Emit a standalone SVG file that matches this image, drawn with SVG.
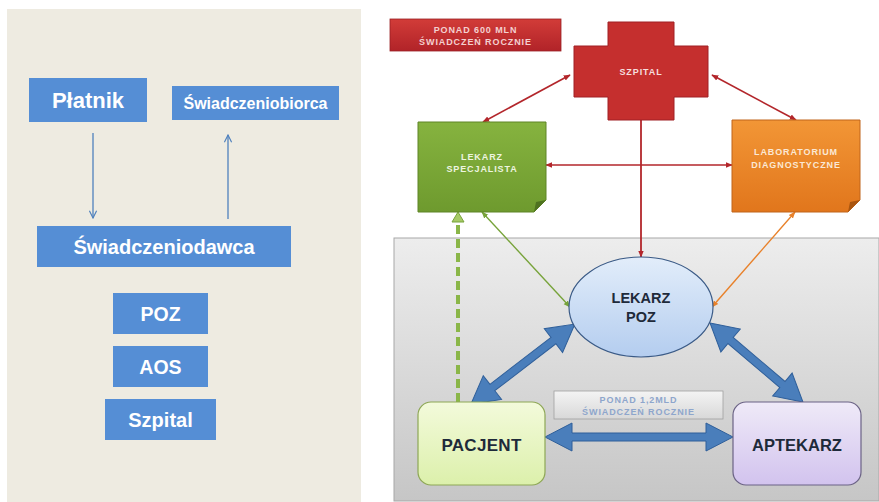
<svg xmlns="http://www.w3.org/2000/svg" width="879" height="502" viewBox="0 0 879 502">
<style>
.lt{font-family:"Liberation Sans",Arial,sans-serif;font-weight:bold;fill:#ffffff;text-anchor:middle}
.bx{fill:#558ed5}
.la{stroke:#4f81bd;stroke-width:1.3;fill:none}
.sm{font-family:"Liberation Sans",Arial,sans-serif;font-weight:bold;text-anchor:middle;font-size:9px;letter-spacing:0.9px}
.dk{font-family:"Liberation Sans",Arial,sans-serif;font-weight:bold;text-anchor:middle;fill:#1e2a3a}
.ba{fill:#4a7ebb;stroke:#2f5f9a;stroke-width:1}
</style>
<defs>
<marker id="va" viewBox="0 0 10 10" refX="9" refY="5" markerWidth="9" markerHeight="9" markerUnits="userSpaceOnUse" orient="auto"><path d="M1,1 L9,5 L1,9" fill="none" stroke="#4f81bd" stroke-width="1.3"/></marker>
<marker id="mr" viewBox="0 0 10 10" refX="9" refY="5" markerWidth="7" markerHeight="7" markerUnits="userSpaceOnUse" orient="auto-start-reverse"><path d="M0,1 L10,5 L0,9 Z" fill="#b3262b"/></marker>
<marker id="mg" viewBox="0 0 10 10" refX="9" refY="5" markerWidth="7" markerHeight="7" markerUnits="userSpaceOnUse" orient="auto-start-reverse"><path d="M0,1 L10,5 L0,9 Z" fill="#77a33a"/></marker>
<marker id="mo" viewBox="0 0 10 10" refX="9" refY="5" markerWidth="7" markerHeight="7" markerUnits="userSpaceOnUse" orient="auto-start-reverse"><path d="M0,1 L10,5 L0,9 Z" fill="#e8812a"/></marker>
<linearGradient id="gGray" x1="0" y1="0" x2="0" y2="1"><stop offset="0" stop-color="#ededed"/><stop offset="1" stop-color="#c6c6c6"/></linearGradient>
<linearGradient id="gRed" x1="0" y1="0" x2="0" y2="1"><stop offset="0" stop-color="#d23c38"/><stop offset="1" stop-color="#b12328"/></linearGradient>
<linearGradient id="gGreen" x1="0" y1="0" x2="0" y2="1"><stop offset="0" stop-color="#86b33f"/><stop offset="1" stop-color="#6e9a2e"/></linearGradient>
<linearGradient id="gOr" x1="0" y1="0" x2="0" y2="1"><stop offset="0" stop-color="#f29636"/><stop offset="1" stop-color="#e1761c"/></linearGradient>
<linearGradient id="gEl" x1="0" y1="0" x2="0" y2="1"><stop offset="0" stop-color="#e2edfa"/><stop offset="1" stop-color="#b4cdef"/></linearGradient>
<linearGradient id="gPac" x1="0" y1="0" x2="0" y2="1"><stop offset="0" stop-color="#f3fadb"/><stop offset="1" stop-color="#dcf0ab"/></linearGradient>
<linearGradient id="gApt" x1="0" y1="0" x2="0" y2="1"><stop offset="0" stop-color="#efeaf8"/><stop offset="1" stop-color="#d2c3ee"/></linearGradient>
<linearGradient id="gLab" x1="0" y1="0" x2="0" y2="1"><stop offset="0" stop-color="#f4f4f4"/><stop offset="1" stop-color="#d8d8d8"/></linearGradient>
</defs>
<rect width="879" height="502" fill="#ffffff"/>
<!-- left panel -->
<rect x="7" y="9" width="354" height="493" fill="#eeebe1"/>
<g id="platnik"><rect class="bx" x="29" y="78" width="118" height="44"/><text class="lt" x="88" y="108" font-size="22">Płatnik</text></g>
<g id="swiadczeniobiorca"><rect class="bx" x="172" y="86" width="167" height="34"/><text class="lt" x="255.5" y="109" font-size="16">Świadczeniobiorca</text></g>
<g id="swiadczeniodawca"><rect class="bx" x="37" y="226" width="254" height="41"/><text class="lt" x="164" y="254" font-size="20">Świadczeniodawca</text></g>
<g id="poz"><rect class="bx" x="113" y="293" width="95" height="41"/><text class="lt" x="160.5" y="321" font-size="19.5">POZ</text></g>
<g id="aos"><rect class="bx" x="113" y="346" width="95" height="41"/><text class="lt" x="160.5" y="374" font-size="19.5">AOS</text></g>
<g id="szpital-l"><rect class="bx" x="105" y="399" width="111" height="41"/><text class="lt" x="160.5" y="427" font-size="20">Szpital</text></g>
<g id="left-connectors">
<line class="la" x1="93" y1="133" x2="93" y2="218" marker-end="url(#va)"/>
<line class="la" x1="228" y1="219" x2="228" y2="135" marker-end="url(#va)"/>
</g>
<!-- right panel -->
<rect x="394" y="238" width="485" height="263" fill="url(#gGray)" stroke="#a8a8a8" stroke-width="1"/>
<g id="label600"><rect x="390" y="19" width="171" height="32" fill="url(#gRed)" stroke="#9a2024" stroke-width="0.8"/>
<text class="sm" x="475.5" y="33" fill="#f4d0d0" letter-spacing="1.6">PONAD 600 MLN</text><text class="sm" x="475.5" y="45" fill="#f4d0d0">ŚWIADCZEŃ ROCZNIE</text></g>
<g id="label12"><rect x="554" y="391" width="169" height="28" fill="url(#gLab)" stroke="#a0a0a0" stroke-width="0.8"/>
<text class="sm" x="638.5" y="403" fill="#8ea6cc" letter-spacing="1.3">PONAD 1,2MLD</text><text class="sm" x="638.5" y="415" fill="#8ea6cc">ŚWIADCZEŃ ROCZNIE</text></g>
<g id="connectors">
<line x1="570" y1="75" x2="483" y2="122" stroke="#b3262b" stroke-width="1.6" marker-start="url(#mr)" marker-end="url(#mr)"/>
<line x1="712" y1="75" x2="796" y2="120" stroke="#b3262b" stroke-width="1.6" marker-start="url(#mr)" marker-end="url(#mr)"/>
<line x1="546" y1="165" x2="732" y2="165" stroke="#b3262b" stroke-width="1.6" marker-start="url(#mr)" marker-end="url(#mr)"/>
<line x1="641" y1="120" x2="641" y2="257" stroke="#b3262b" stroke-width="1.8" marker-end="url(#mr)"/>
<line x1="482" y1="212" x2="570" y2="307" stroke="#77a33a" stroke-width="1.4" marker-start="url(#mg)" marker-end="url(#mg)"/>
<line x1="795" y1="212" x2="712" y2="307" stroke="#e8812a" stroke-width="1.4" marker-start="url(#mo)" marker-end="url(#mo)"/>
<line x1="458" y1="402" x2="458" y2="222" stroke="#8ab648" stroke-width="4" stroke-dasharray="9 5"/>
<polygon points="452,222 464,222 458,212" fill="#a6ca66" stroke="#77a33a" stroke-width="1"/>
<polygon class="ba" transform="translate(471,404) rotate(-37.57)" points="0,0 27,-15 27,-4 104,-4 104,-15 131,0 104,15 104,4 27,4 27,15"/>
<polygon class="ba" transform="translate(710,323) rotate(40.35)" points="0,0 27,-15 27,-4 95,-4 95,-15 122,0 95,15 95,4 27,4 27,15"/>
<polygon class="ba" transform="translate(545,437)" points="0,0 27,-14 27,-4 161,-4 161,-14 188,0 161,14 161,4 27,4 27,14"/>
</g>
<g id="szpital"><path d="M608,22 H674 V46 H708 V97 H674 V120 H608 V97 H574 V46 H608 Z" fill="#c52f2e" stroke="#a02024" stroke-width="1"/>
<text class="sm" x="641" y="75" fill="#f6dede" letter-spacing="1.2">SZPITAL</text></g>
<g id="specjalista"><path d="M418,122 H546 V200 L534,212 H418 Z" fill="url(#gGreen)" stroke="#5e8526" stroke-width="1"/>
<path d="M546,200 L534,212 L536,202 Z" fill="#4f7220"/>
<text class="sm" x="482" y="160" fill="#eef5e0" letter-spacing="1">LEKARZ</text><text class="sm" x="482" y="172" fill="#eef5e0" letter-spacing="1">SPECJALISTA</text></g>
<g id="laboratorium"><path d="M732,120 H860 V200 L848,212 H732 Z" fill="url(#gOr)" stroke="#c0651a" stroke-width="1"/>
<path d="M860,200 L848,212 L850,202 Z" fill="#a9550f"/>
<text class="sm" x="796" y="155" fill="#fbe8d4" font-size="10" letter-spacing="1.4">LABORATORIUM</text><text class="sm" x="796" y="168" fill="#fbe8d4" font-size="10" letter-spacing="1.2">DIAGNOSTYCZNE</text></g>
<g id="lekarz-poz"><ellipse cx="641" cy="307" rx="72" ry="50" fill="url(#gEl)" stroke="#3a5a86" stroke-width="1.2"/>
<text class="dk" x="641" y="303" font-size="14.5">LEKARZ</text><text class="dk" x="641" y="322" font-size="14.5">POZ</text></g>
<g id="pacjent"><rect x="418" y="402" width="127" height="83" rx="13" fill="url(#gPac)" stroke="#8ea756" stroke-width="1.2"/>
<text class="dk" x="481.5" y="451" font-size="17" fill="#1a1f12" letter-spacing="0.3">PACJENT</text></g>
<g id="aptekarz"><rect x="733" y="402" width="128" height="83" rx="13" fill="url(#gApt)" stroke="#6b6385" stroke-width="1.2"/>
<text class="dk" x="797" y="451" font-size="16.5">APTEKARZ</text></g>
</svg>
